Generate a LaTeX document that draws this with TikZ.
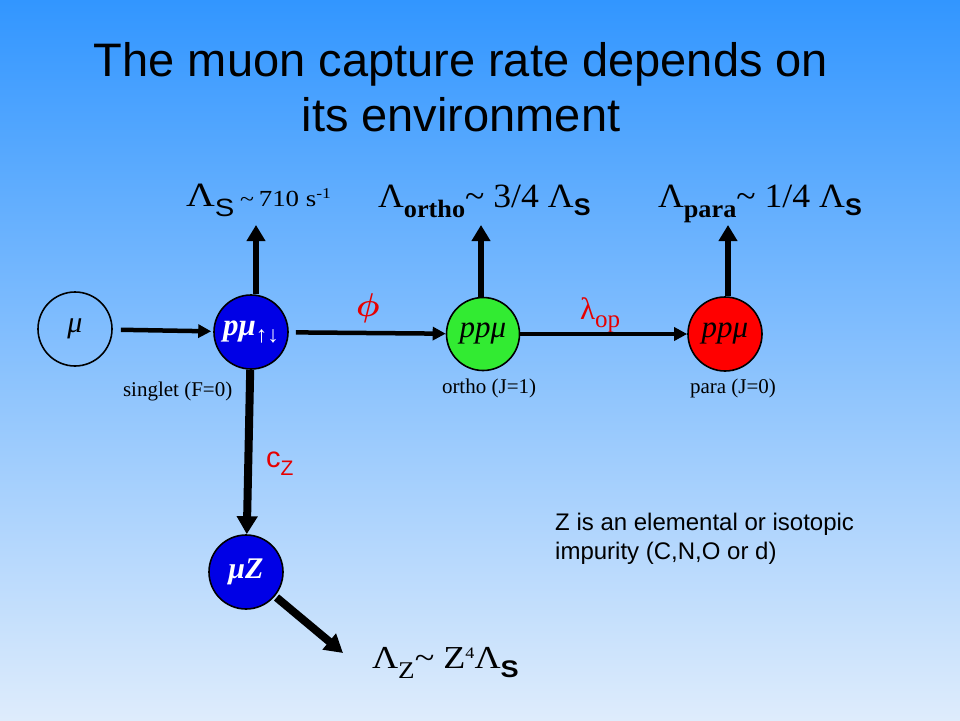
\documentclass[tikz,border=0pt]{standalone}
\usepackage{fix-cm}
\usepackage{bm}
\usepackage{graphicx}
\usepackage{fontspec}
\setmainfont{Liberation Serif}
\newfontfamily\arial{Liberation Sans}
\usetikzlibrary{arrows.meta,calc}
\newcommand{\fsz}[1]{\fontsize{#1pt}{#1pt}\selectfont}
\definecolor{bgtop}{RGB}{50,150,255}
\definecolor{bgbot}{RGB}{222,236,252}
\definecolor{ballblue}{RGB}{0,0,230}
\definecolor{ballgreen}{RGB}{50,235,50}
\definecolor{ballred}{RGB}{255,0,0}
\definecolor{labred}{RGB}{230,0,0}
\begin{document}
\begin{tikzpicture}[x=1pt,y=-1pt,
  txt/.style={inner sep=0pt, outer sep=0pt, anchor=base west},
  ball/.style={circle, draw=black, line width=1.6pt, minimum size=74pt, inner sep=0pt},
  harrow/.style={line width=4.5pt, -{Triangle[length=13pt,width=13pt]}},
  varrow/.style={line width=6.5pt, -{Triangle[length=16pt,width=18pt]}},
  darrow/.style={line width=8pt, -{Triangle[length=18pt,width=20pt]}},
]
\shade[top color=bgtop, bottom color=bgbot] (0,0) rectangle (960,720);
\useasboundingbox (0,0) rectangle (960,720);

% title
\node[anchor=base, inner sep=0pt] (title1) at (461,76) {\arial\fsz{47}The muon capture rate depends on};
\node[anchor=base, inner sep=0pt] (title2) at (461,131) {\arial\fsz{47}its environment};

% particles
\node[ball] (mu) at (75,329) {\fsz{30}\itshape μ};
\node[ball, fill=ballblue] (pmu) at (251,332) {\color{white}\fsz{31}\bfseries\itshape pμ\raisebox{-7pt}{\fsz{23}\upshape ↑↓}};
\node[ball, fill=ballgreen, minimum size=73pt] (ortho) at (483,334) {\fsz{31}\itshape ppμ};
\node[ball, fill=ballred] (para) at (725,334) {\fsz{31}\itshape ppμ};
\node[ball, fill=ballblue] (muz) at (246,572) {\color{white}\fsz{30}\bfseries\itshape μZ};

% state labels
\node[txt] (singlet) at (123,396) {\fsz{21}singlet (F=0)};
\node[txt] (orthol) at (442,393) {\fsz{21}ortho (J=1)};
\node[txt] (paral) at (690,393) {\fsz{21}para (J=0)};

% rate labels
\node[txt] (ls) at (186,206) {\scalebox{1.17}[1]{\fsz{34}Λ\raisebox{-10pt}{\arial\fsz{25}S}\hspace{5pt}\fsz{22}\textasciitilde\hspace{4pt}\fsz{23}710 s\raisebox{8pt}{\fsz{15}-1}}};
\node[txt] (lo) at (378,207.5) {\scalebox{1.05}[1]{\fsz{34}Λ\raisebox{-9.5pt}{\fsz{25}\bfseries ortho}\textasciitilde\ 3/4 Λ\raisebox{-7.5pt}{\arial\bfseries\fsz{24}S}}};
\node[txt] (lp) at (658,207.5) {\scalebox{1.05}[1]{\fsz{34}Λ\raisebox{-9.5pt}{\fsz{25}\bfseries para}\textasciitilde\ 1/4 Λ\raisebox{-7.5pt}{\arial\bfseries\fsz{24}S}}};
\node[txt] (lz) at (372,668) {\scalebox{1.13}[1]{\fsz{32}Λ\raisebox{-10pt}{\fsz{24}Z}\textasciitilde\ Z\raisebox{9.5pt}{\fsz{16}4}Λ\raisebox{-9pt}{\arial\bfseries\fsz{24}S}}};

% transition labels
\node[text=labred, inner sep=0pt] (phi) at (368,308) {\fsz{33}$\bm{\phi}$};
\node[txt, text=labred] (lop) at (580,319) {\fsz{31}λ\raisebox{-8pt}{\fsz{25}op}};
\node[txt, text=labred] (cz) at (266,467) {\arial\fsz{29}c\raisebox{-8pt}{\fsz{21}Z}};

% note
\node[anchor=north west, inner sep=0pt, align=left, font=\arial\fontsize{24pt}{29pt}\selectfont] (note) at (555,513) {Z is an elemental or isotopic\\impurity (C,N,O or d)};

% connectors
\coordinate (tipS) at (256,225);
\coordinate (tipO) at (481,225);
\coordinate (tipP) at (728,225);
\coordinate (tipZ) at (343,653);
\draw[harrow, shorten <=8pt, shorten >=2pt] (mu) -- (pmu);
\draw[harrow, shorten <=7pt] (pmu) -- (ortho);
\draw[harrow] (ortho) -- (para);
\draw[varrow] (pmu.north -| tipS) -- (tipS);
\draw[varrow] (ortho.north -| tipO) -- (tipO);
\draw[varrow] (para.north -| tipP) -- (tipP);
\draw[darrow] (pmu) -- (muz);
\draw[darrow, shorten <=2pt] (muz) -- (tipZ);
\end{tikzpicture}
\end{document}
